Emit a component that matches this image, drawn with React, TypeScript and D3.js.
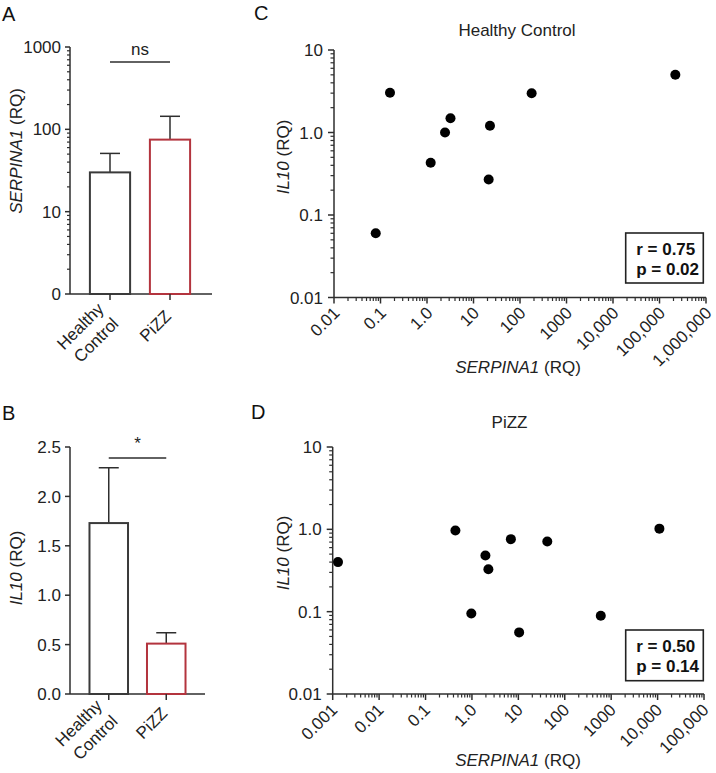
import React from "react";
import * as d3 from "d3";

const FONT = "'Liberation Sans', Arial, Helvetica, sans-serif";
const AX = "#2e2e2e";

// ---- Bar panels data ----
const groups = ["Healthy\nControl", "PiZZ"];
const serpinaMean = [30, 75];
const serpinaUpper = [51, 144];
const il10Mean = [1.73, 0.51];
const il10Upper = [2.29, 0.62];
const barColors = ["#3a3a3a", "#b3343e"];
const serpinaTicks = [1, 10, 100, 1000];
const serpinaTickLabels = ["0", "10", "100", "1000"];
const il10Ticks = [0, 0.5, 1, 1.5, 2, 2.5];
const il10TickLabels = ["0.0", "0.5", "1.0", "1.5", "2.0", "2.5"];

// ---- Scatter data ----
const hcSerpina = [0.079, 0.16, 1.2, 2.44, 3.2, 22.6, 21.2, 178, 219000];
const hcIl10 = [0.06, 3.04, 0.43, 1.0, 1.49, 1.21, 0.27, 2.99, 5.0];
const pizzSerpina = [0.0013, 0.44, 0.97, 1.95, 2.26, 6.9, 10.4, 42, 597, 10940];
const pizzIl10 = [0.4, 0.97, 0.095, 0.48, 0.327, 0.76, 0.056, 0.71, 0.089, 1.02];

const hcXTicks = [0.01, 0.1, 1, 10, 100, 1000, 10000, 100000, 1000000];
const hcXTickLabels = ["0.01", "0.1", "1.0", "10", "100", "1000", "10,000", "100,000", "1,000,000"];
const pizzXTicks = [0.001, 0.01, 0.1, 1, 10, 100, 1000, 10000, 100000];
const pizzXTickLabels = ["0.001", "0.01", "0.1", "1.0", "10", "100", "1000", "10,000", "100,000"];
const il10LogTicks = [0.01, 0.1, 1, 10];
const il10LogTickLabels = ["0.01", "0.1", "1.0", "10"];
const hcStats = ["r = 0.75", "p = 0.02"];
const pizzStats = ["r = 0.50", "p = 0.14"];

function minorLog(min: number, max: number): number[] {
  const out: number[] = [];
  const e0 = Math.round(Math.log10(min));
  const e1 = Math.round(Math.log10(max));
  for (let e = e0; e < e1; e++) {
    for (let k = 2; k <= 9; k++) out.push(k * Math.pow(10, e));
  }
  return out;
}

type YAxisProps = {
  x: number;
  scale: (v: number) => number;
  ticks: number[];
  labels: string[];
  minor: number[];
  major: number;
  minorLen: number;
  labelGap: number;
  top: number;
  bottom: number;
};

function YAxis(p: YAxisProps) {
  return (
    <g stroke={AX} strokeWidth={1.5}>
      <line x1={p.x} x2={p.x} y1={p.top} y2={p.bottom} />
      {p.ticks.map((t, i) => (
        <g key={"t" + i}>
          <line x1={p.x - p.major} x2={p.x} y1={p.scale(t)} y2={p.scale(t)} />
          <text
            x={p.x - p.labelGap}
            y={p.scale(t)}
            dy="0.36em"
            textAnchor="end"
            fontSize={17}
            fill="#222"
            stroke="none"
          >
            {p.labels[i]}
          </text>
        </g>
      ))}
      {p.minor.map((t, i) => (
        <line key={"m" + i} x1={p.x - p.minorLen} x2={p.x} y1={p.scale(t)} y2={p.scale(t)} strokeWidth={1.2} />
      ))}
    </g>
  );
}

type BarPanelProps = {
  letter: string;
  letterY: number;
  y: any;
  yTop: number;
  yBottom: number;
  axisX: number;
  axisEnd: number;
  bandRange: [number, number];
  ticks: number[];
  labels: string[];
  minor: number[];
  means: number[];
  uppers: number[];
  sigText: string;
  sigY: number;
  sigTextY: number;
  ylabelItalic: string;
  ylabelY: number;
  labelU: number;
  labelV: number;
  lineGap: number;
};

function BarPanel(p: BarPanelProps) {
  const x = d3.scaleBand<string>().domain(groups).range(p.bandRange).paddingInner(0.33).paddingOuter(0.165);
  const base = p.yBottom;
  const cx = (g: string) => (x(g) as number) + x.bandwidth() / 2;
  const c0 = cx(groups[0]);
  const c1 = cx(groups[1]);
  return (
    <g>
      <text x={2} y={p.letterY} fontSize={20} fill="#111">{p.letter}</text>
      <YAxis
        x={p.axisX}
        scale={p.y}
        ticks={p.ticks}
        labels={p.labels}
        minor={p.minor}
        major={5}
        minorLen={3}
        labelGap={9}
        top={p.yTop}
        bottom={p.yBottom}
      />
      <line x1={p.axisX} x2={p.axisEnd} y1={base} y2={base} stroke={AX} strokeWidth={1.5} />
      {groups.map((g, i) => {
        const x0 = x(g) as number;
        const w = x.bandwidth();
        const top = p.y(p.means[i]);
        const up = p.y(p.uppers[i]);
        const c = x0 + w / 2;
        return (
          <g key={g}>
            <line x1={c} x2={c} y1={top} y2={up} stroke={AX} strokeWidth={1.5} />
            <line x1={c - 10} x2={c + 10} y1={up} y2={up} stroke={AX} strokeWidth={1.5} />
            <rect x={x0} y={top} width={w} height={base - top} fill="none" stroke={barColors[i]} strokeWidth={2} />
            <line x1={c} x2={c} y1={base} y2={base + 6} stroke={AX} strokeWidth={1.5} />
            <g transform={`translate(${c},${base}) rotate(-45)`}>
              {g.split("\n").map((ln, j, arr) => (
                <text
                  key={j}
                  x={p.labelU}
                  y={p.labelV + (j - (arr.length - 1) / 2) * p.lineGap}
                  textAnchor="end"
                  fontSize={17}
                  fill="#222"
                >
                  {ln}
                </text>
              ))}
            </g>
          </g>
        );
      })}
      <line x1={c0} x2={c1} y1={p.sigY} y2={p.sigY} stroke={AX} strokeWidth={1.5} />
      <text x={(c0 + c1) / 2} y={p.sigTextY} textAnchor="middle" fontSize={17} fill="#222">{p.sigText}</text>
      <text transform={`translate(22,${p.ylabelY}) rotate(-90)`} textAnchor="middle" fontSize={17} fill="#222">
        <tspan fontStyle="italic">{p.ylabelItalic}</tspan>
        <tspan> (RQ)</tspan>
      </text>
    </g>
  );
}

type ScatterProps = {
  letter: string;
  letterX: number;
  letterY: number;
  title: string;
  titleX: number;
  titleY: number;
  xDomain: [number, number];
  xRange: [number, number];
  yRange: [number, number];
  xTicks: number[];
  xTickLabels: string[];
  xs: number[];
  ys: number[];
  stats: string[];
  box: [number, number, number, number];
  ylabelY: number;
  xlabelY: number;
  tickU: number;
  tickV: number;
};

function Scatter(p: ScatterProps) {
  const x = d3.scaleLog().domain(p.xDomain).range(p.xRange);
  const y = d3.scaleLog().domain([0.01, 10]).range(p.yRange);
  const ax = p.xRange[0];
  const ay = p.yRange[0];
  const xMinor = minorLog(p.xDomain[0], p.xDomain[1]);
  const yMinor = minorLog(0.01, 10);
  const [bx, by, bw, bh] = p.box;
  return (
    <g>
      <text x={p.letterX} y={p.letterY} fontSize={20} fill="#111">{p.letter}</text>
      <text x={p.titleX} y={p.titleY} textAnchor="middle" fontSize={17} fill="#222">{p.title}</text>
      <YAxis
        x={ax}
        scale={y}
        ticks={il10LogTicks}
        labels={il10LogTickLabels}
        minor={yMinor}
        major={6}
        minorLen={3.5}
        labelGap={11}
        top={p.yRange[1]}
        bottom={ay}
      />
      <g stroke={AX} strokeWidth={1.5}>
        <line x1={ax} x2={p.xRange[1]} y1={ay} y2={ay} />
        {p.xTicks.map((t, i) => (
          <g key={"xt" + i}>
            <line x1={x(t)} x2={x(t)} y1={ay} y2={ay + 6} />
            <g transform={`translate(${x(t)},${ay}) rotate(-45)`}>
              <text x={p.tickU} y={p.tickV} textAnchor="end" fontSize={17} fill="#222" stroke="none">
                {p.xTickLabels[i]}
              </text>
            </g>
          </g>
        ))}
        {xMinor.map((t, i) => (
          <line key={"xm" + i} x1={x(t)} x2={x(t)} y1={ay} y2={ay + 3.5} strokeWidth={1.2} />
        ))}
      </g>
      {p.xs.map((v, i) => (
        <circle key={"p" + i} cx={x(v)} cy={y(p.ys[i])} r={5} fill="#000" />
      ))}
      <rect x={bx} y={by} width={bw} height={bh} fill="#fff" stroke="#222" strokeWidth={1.6} />
      {p.stats.map((s, i) => (
        <text key={s} x={bx + 10.5} y={by + 22 + i * 20} fontSize={17} fontWeight="bold" fill="#111">{s}</text>
      ))}
      <text
        transform={`translate(289,${p.ylabelY}) rotate(-90)`}
        textAnchor="middle"
        fontSize={17}
        fill="#222"
      >
        <tspan fontStyle="italic">IL10</tspan>
        <tspan> (RQ)</tspan>
      </text>
      <text x={518} y={p.xlabelY} textAnchor="middle" fontSize={17} fill="#222">
        <tspan fontStyle="italic">SERPINA1</tspan>
        <tspan> (RQ)</tspan>
      </text>
    </g>
  );
}

export default function App() {
  const yA = d3.scaleLog().domain([1, 1000]).range([294, 47]);
  const yB = d3.scaleLinear().domain([0, 2.5]).range([694, 447]);
  return (
    <svg
      width={716}
      height={773}
      style={{ position: "absolute", left: 0, top: 0, background: "#fff" }}
      fontFamily={FONT}
    >
      <rect width={716} height={773} fill="#fff" />
      <BarPanel
        letter="A"
        letterY={21}
        y={yA}
        yTop={47}
        yBottom={294}
        axisX={70}
        axisEnd={212}
        bandRange={[80, 200]}
        ticks={serpinaTicks}
        labels={serpinaTickLabels}
        minor={minorLog(1, 1000)}
        means={serpinaMean}
        uppers={serpinaUpper}
        sigText="ns"
        sigY={62}
        sigTextY={55}
        ylabelItalic="SERPINA1"
        ylabelY={151}
        labelU={-15}
        labelV={18}
        lineGap={21}
      />
      <BarPanel
        letter="B"
        letterY={420}
        y={yB}
        yTop={447}
        yBottom={694}
        axisX={70}
        axisEnd={205}
        bandRange={[80, 195]}
        ticks={il10Ticks}
        labels={il10TickLabels}
        minor={[]}
        means={il10Mean}
        uppers={il10Upper}
        sigText="*"
        sigY={458}
        sigTextY={449}
        ylabelItalic="IL10"
        ylabelY={568}
        labelU={-13}
        labelV={16}
        lineGap={22}
      />
      <Scatter
        letter="C"
        letterX={254}
        letterY={19.5}
        title="Healthy Control"
        titleX={517}
        titleY={36}
        xDomain={[0.01, 1000000]}
        xRange={[334, 706]}
        yRange={[297.5, 50]}
        xTicks={hcXTicks}
        xTickLabels={hcXTickLabels}
        xs={hcSerpina}
        ys={hcIl10}
        stats={hcStats}
        box={[625.7, 233, 77.6, 50]}
        ylabelY={157}
        xlabelY={373}
        tickU={-7}
        tickV={16.5}
      />
      <Scatter
        letter="D"
        letterX={251}
        letterY={419}
        title="PiZZ"
        titleX={509.5}
        titleY={428.3}
        xDomain={[0.001, 100000]}
        xRange={[332.7, 704]}
        yRange={[694, 447]}
        xTicks={pizzXTicks}
        xTickLabels={pizzXTickLabels}
        xs={pizzSerpina}
        ys={pizzIl10}
        stats={pizzStats}
        box={[625.7, 630, 77.6, 50.7]}
        ylabelY={553}
        xlabelY={766}
        tickU={-8}
        tickV={16}
      />
    </svg>
  );
}
